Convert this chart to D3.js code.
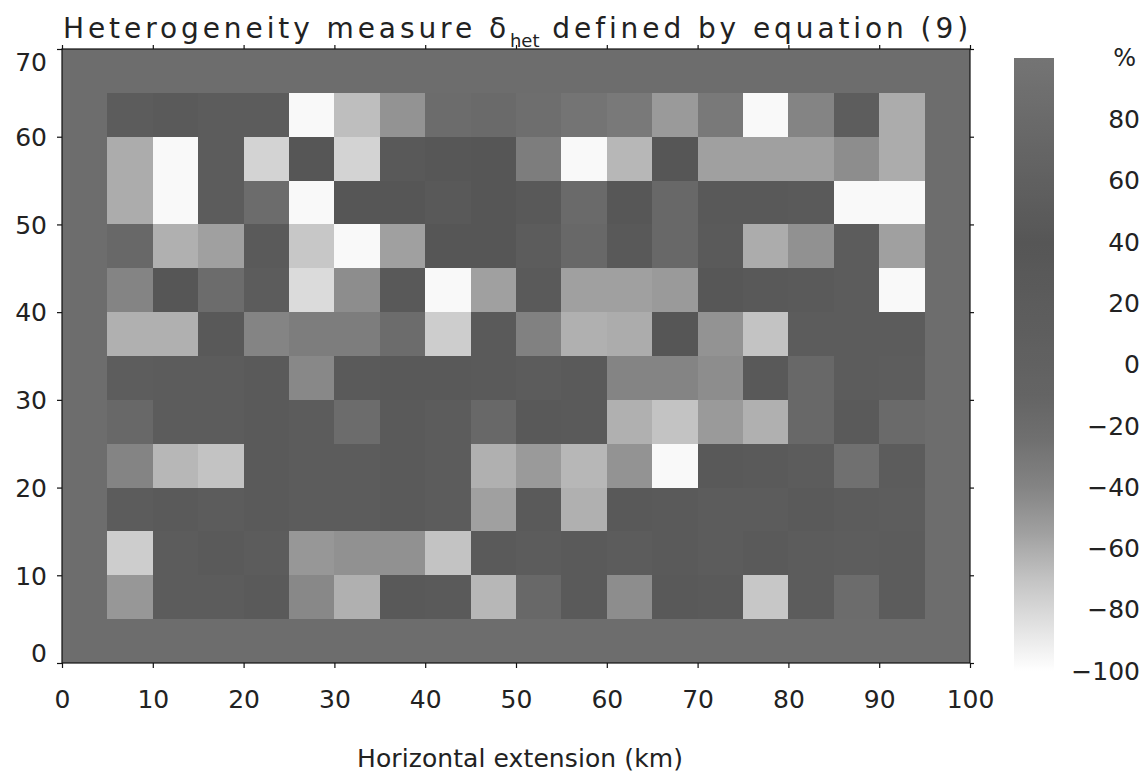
<!DOCTYPE html>
<html>
<head>
<meta charset="utf-8">
<script src="https://cdn.jsdelivr.net/npm/d3@7/dist/d3.min.js"></script>
<style>
  html, body { margin: 0; padding: 0; background: #fff; }
  svg { display: block; }
  text { font-family: "DejaVu Sans", sans-serif; fill: #222; }
</style>
</head>
<body>
<svg id="chart" width="1147" height="779"></svg>
<script>
// Axis ticks (km)
const xTicks = [0, 10, 20, 30, 40, 50, 60, 70, 80, 90, 100];
const yTicks = [0, 10, 20, 30, 40, 50, 60, 70];
// Colour bar ticks (%)
const cbTicks = [80, 60, 40, 20, 0, -20, -40, -60, -80, -100];

// Cell grid: 5 km cells, left edges and bottom edges (km)
const cellSize = 5;
const colX = [5, 10, 15, 20, 25, 30, 35, 40, 45, 50, 55, 60, 65, 70, 75, 80, 85, 90];
const rowY = [60, 55, 50, 45, 40, 35, 30, 25, 20, 15, 10, 5];

// Value of the 5 km frame around the grid (%)
const marginValue = 85;

// Heterogeneity δ_het per cell (%), rows from top (y 60-65) to bottom (y 5-10)
const row60 = [20, 25, 20, 20, -97, -68, -48, -20, -18, -22, -28, -32, -52, -32, -97, -40, 15, -60];
const row55 = [-60, -97, 20, -78, 40, -78, 30, 35, 40, -35, -97, -65, 40, -55, -55, -55, -45, -60];
const row50 = [-60, -97, 20, -20, -97, 40, 40, 45, 40, 30, -18, 35, -15, 30, 30, 25, -97, -97];
const row45 = [-15, -62, -55, 25, -72, -97, -55, 40, 40, 20, -15, 30, -15, 25, -60, -47, 20, -55];
const row40 = [-40, 40, -20, 20, -82, -45, 30, -97, -55, 25, -55, -55, -52, 35, 30, 25, 20, -97];
const row35 = [-62, -62, 30, -40, -35, -35, -20, -75, 25, -38, -62, -60, 40, -48, -70, 20, 20, 20];
const row30 = [15, 20, 20, 25, -42, 25, 30, 30, 25, 20, 25, -40, -40, -45, 30, -15, 20, 15];
const row25 = [-15, 20, 20, 25, 20, -20, 25, 20, -15, 30, 25, -62, -70, -52, -62, -15, 25, -18];
const row20 = [-40, -65, -70, 25, 20, 20, 25, 20, -62, -52, -65, -48, -97, 30, 25, 20, -25, 20];
const row15 = [20, 25, 20, 25, 20, 20, 25, 20, -55, 25, -62, 30, 25, 20, 20, 25, 20, 15];
const row10 = [-75, 20, 25, 20, -50, -47, -47, -70, 25, 20, 25, 20, 25, 20, 25, 20, 15, 20];
const row5  = [-50, 20, 20, 25, -42, -62, 30, 25, -65, -15, 25, -45, 30, 25, -72, 20, -20, 20];
const gridValues = [row60, row55, row50, row45, row40, row35, row30, row25, row20, row15, row10, row5];

// Grey colour map stops
const cmapStops = [-100, -85, -70, -55, -40, -25, -10, 40, 100];
const cmapGreys = ["#ffffff", "#e1e1e1", "#c3c3c3", "#a0a0a0", "#848484", "#707070", "#646464", "#565656", "#747474"];

const svg = d3.select("#chart");

const x = d3.scaleLinear().domain([0, 100]).range([62, 970]);
const y = d3.scaleLinear().domain([0, 70]).range([663, 49]);
const color = d3.scaleLinear().domain(cmapStops).range(cmapGreys).interpolate(d3.interpolateRgb);

// Frame around the grid
svg.append("rect")
  .attr("x", x(0)).attr("y", y(70))
  .attr("width", x(100) - x(0)).attr("height", y(0) - y(70))
  .attr("fill", color(marginValue));

// Cells
const cells = [];
gridValues.forEach((row, ri) => {
  row.forEach((v, ci) => cells.push({ x0: colX[ci], y0: rowY[ri], v }));
});
svg.append("g").selectAll("rect").data(cells).join("rect")
  .attr("x", d => x(d.x0))
  .attr("y", d => y(d.y0 + cellSize))
  .attr("width", d => x(d.x0 + cellSize) - x(d.x0))
  .attr("height", d => y(d.y0) - y(d.y0 + cellSize))
  .attr("fill", d => color(d.v))
  .attr("shape-rendering", "crispEdges");

// Plot border
svg.append("rect")
  .attr("x", x(0)).attr("y", y(70))
  .attr("width", x(100) - x(0)).attr("height", y(0) - y(70))
  .attr("fill", "none").attr("stroke", "#111").attr("stroke-width", 1.2);

// Axes
function styleAxis(g) {
  g.select(".domain").remove();
  g.selectAll(".tick line").attr("stroke", "#111").attr("stroke-width", 1.2);
  g.selectAll(".tick text").attr("font-size", 25).attr("fill", "#222")
    .attr("font-family", "DejaVu Sans, sans-serif");
}

svg.append("g")
  .attr("transform", `translate(0,${y(0)})`)
  .call(d3.axisBottom(x).tickValues(xTicks).tickSize(5).tickPadding(22).tickFormat(d3.format("d")))
  .call(styleAxis);

svg.append("g")
  .attr("transform", `translate(0,${y(70)})`)
  .call(d3.axisTop(x).tickValues(xTicks).tickSize(4).tickFormat(""))
  .call(styleAxis);

const yAxisG = svg.append("g")
  .attr("transform", `translate(${x(0)},0)`)
  .call(d3.axisLeft(y).tickValues(yTicks).tickSize(5).tickPadding(10).tickFormat(d3.format("d")))
  .call(styleAxis);
// keep the end labels inside the axis span
yAxisG.selectAll(".tick text").attr("dy", d => d === 70 ? "0.85em" : d === 0 ? "-0.05em" : "0.35em");

svg.append("g")
  .attr("transform", `translate(${x(100)},0)`)
  .call(d3.axisRight(y).tickValues(yTicks).tickSize(4).tickFormat(""))
  .call(styleAxis);

// Colour bar
const cb = d3.scaleLinear().domain([-100, 100]).range([671, 58]);
const defs = svg.append("defs");
const grad = defs.append("linearGradient").attr("id", "cbGrad")
  .attr("x1", 0).attr("y1", 1).attr("x2", 0).attr("y2", 0);
d3.range(-100, 100.1, 5).forEach(v => {
  grad.append("stop").attr("offset", (v + 100) / 200).attr("stop-color", color(v));
});
svg.append("rect")
  .attr("x", 1014).attr("y", cb(100))
  .attr("width", 40).attr("height", cb(-100) - cb(100))
  .attr("fill", "url(#cbGrad)");

svg.append("g").selectAll("text").data(cbTicks).join("text")
  .attr("x", 1140).attr("y", d => cb(d))
  .attr("dy", "0.35em")
  .attr("text-anchor", "end")
  .attr("font-size", 25)
  .text(d => d < 0 ? "\u2212" + Math.abs(d) : String(d));

svg.append("text")
  .attr("x", 1136).attr("y", cb(100))
  .attr("dy", "0.35em")
  .attr("text-anchor", "end")
  .attr("font-size", 24)
  .text("%");

// Title: main text with letter spacing, subscript kept tight
const titleA = "Heterogeneity measure \u03b4";
const titleSub = "het";
const titleB = " defined by equation (9)";
const title = svg.append("text")
  .attr("x", 63).attr("y", 38)
  .attr("font-size", 28);
const tA = title.append("tspan").text(titleA);
const tS = title.append("tspan").attr("font-size", 18).attr("dy", 9).attr("letter-spacing", 0).text(titleSub);
const tB = title.append("tspan").attr("dy", -9).text(titleB);
{
  const w = title.node().getComputedTextLength();
  const n = titleA.length + titleB.length;
  const ls = ((972 - 63) - w) / n;
  tA.attr("letter-spacing", ls);
  tB.attr("letter-spacing", ls);
}

// X axis title
const xTitle = svg.append("text")
  .attr("x", 357).attr("y", 767)
  .attr("font-size", 25)
  .text("Horizontal extension (km)");
{
  const w = xTitle.node().getComputedTextLength();
  const n = "Horizontal extension (km)".length;
  xTitle.attr("letter-spacing", ((683 - 357) - w) / n);
}
</script>
</body>
</html>
